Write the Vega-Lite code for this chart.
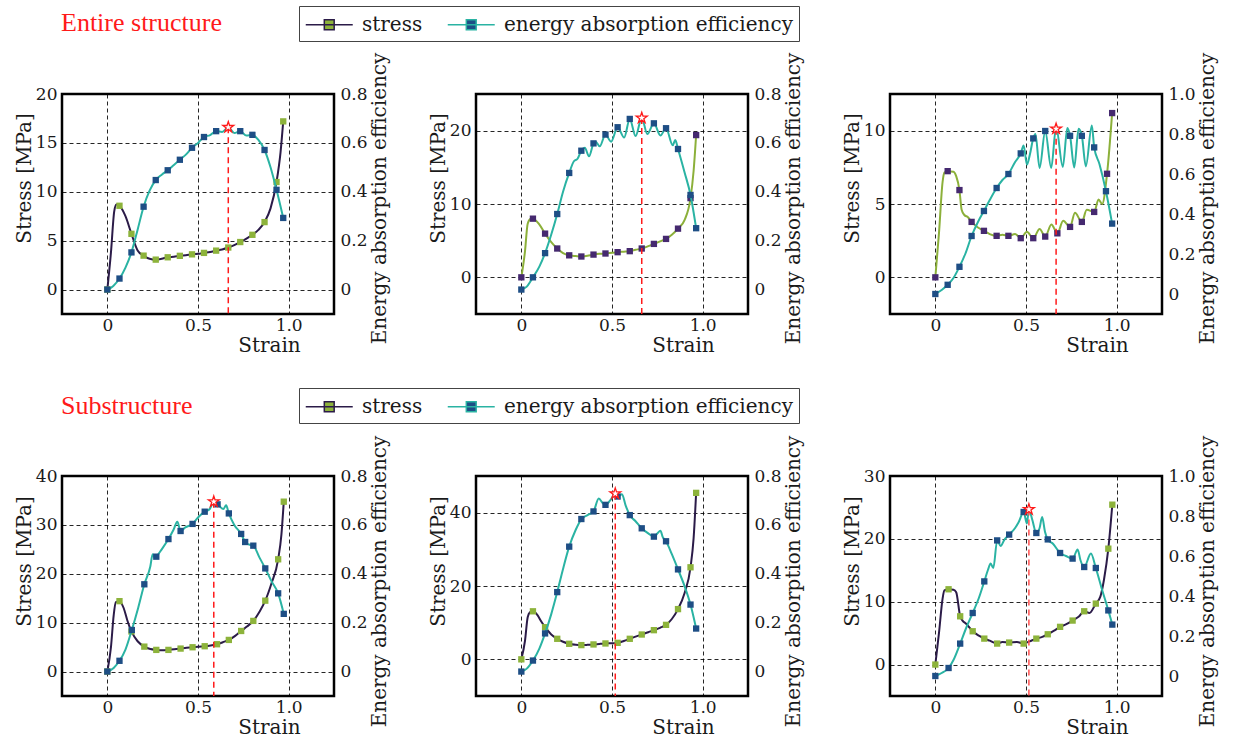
{
"$schema": "https://vega.github.io/schema/vega-lite/v6.json",
"background": "white",
"padding": {"left": 12, "top": 4, "right": 5, "bottom": 5},
"columns": 3,
"spacing": {"row": 162, "column": 142},
"bounds": "flush",
"resolve": {"scale": {"color": "independent"}, "legend": {"color": "independent"}},
"config": {
  "view": {"stroke": "#000", "strokeWidth": 2.5},
  "axis": {"labelFont": "DejaVu Serif", "titleFont": "DejaVu Serif", "labelFontSize": 17, "labelColor": "#1a1a1a", "titleFontSize": 20, "titleFontWeight": "normal", "titleColor": "#1a1a1a", "ticks": false, "domain": false, "grid": true, "gridColor": "#000", "gridDash": [4, 3], "gridWidth": 1, "gridOpacity": 0.85, "labelOverlap": false, "labelFlush": false, "labelBound": false}
},
"datasets": {
"p1": [
{"x":0,"y":0,"k":"s","m":1},{"x":0.02,"y":3.8,"k":"s"},{"x":0.038,"y":8.0,"k":"s"},{"x":0.05,"y":8.7,"k":"s"},{"x":0.067,"y":8.57,"k":"s","m":1},{"x":0.1,"y":7.5,"k":"s"},{"x":0.133,"y":5.7,"k":"s","m":1},{"x":0.167,"y":4.0,"k":"s"},{"x":0.2,"y":3.47,"k":"s","m":1},{"x":0.233,"y":3.15,"k":"s"},{"x":0.267,"y":3.06,"k":"s","m":1},{"x":0.3,"y":3.15,"k":"s"},{"x":0.333,"y":3.3,"k":"s","m":1},{"x":0.367,"y":3.35,"k":"s"},{"x":0.4,"y":3.45,"k":"s","m":1},{"x":0.433,"y":3.5,"k":"s"},{"x":0.467,"y":3.6,"k":"s","m":1},{"x":0.5,"y":3.65,"k":"s"},{"x":0.533,"y":3.75,"k":"s","m":1},{"x":0.567,"y":3.85,"k":"s"},{"x":0.6,"y":3.98,"k":"s","m":1},{"x":0.633,"y":4.1,"k":"s"},{"x":0.667,"y":4.3,"k":"s","m":1},{"x":0.7,"y":4.55,"k":"s"},{"x":0.733,"y":4.86,"k":"s","m":1},{"x":0.767,"y":5.2,"k":"s"},{"x":0.8,"y":5.6,"k":"s","m":1},{"x":0.833,"y":6.1,"k":"s"},{"x":0.867,"y":6.9,"k":"s","m":1},{"x":0.9,"y":8.3,"k":"s"},{"x":0.933,"y":11.0,"k":"s","m":1},{"x":0.955,"y":14.0,"k":"s"},{"x":0.97,"y":17.2,"k":"s","m":1},
{"x":0,"y":0,"k":"e","m":1},{"x":0.033,"y":0.015,"k":"e"},{"x":0.067,"y":0.045,"k":"e","m":1},{"x":0.1,"y":0.09,"k":"e"},{"x":0.133,"y":0.152,"k":"e","m":1},{"x":0.167,"y":0.245,"k":"e"},{"x":0.2,"y":0.339,"k":"e","m":1},{"x":0.233,"y":0.405,"k":"e"},{"x":0.267,"y":0.448,"k":"e","m":1},{"x":0.3,"y":0.47,"k":"e"},{"x":0.333,"y":0.488,"k":"e","m":1},{"x":0.367,"y":0.51,"k":"e"},{"x":0.4,"y":0.531,"k":"e","m":1},{"x":0.433,"y":0.552,"k":"e"},{"x":0.467,"y":0.58,"k":"e","m":1},{"x":0.5,"y":0.6,"k":"e"},{"x":0.533,"y":0.624,"k":"e","m":1},{"x":0.567,"y":0.632,"k":"e"},{"x":0.6,"y":0.648,"k":"e","m":1},{"x":0.633,"y":0.645,"k":"e"},{"x":0.667,"y":0.664,"k":"e"},{"x":0.7,"y":0.64,"k":"e"},{"x":0.733,"y":0.648,"k":"e","m":1},{"x":0.767,"y":0.63,"k":"e"},{"x":0.8,"y":0.633,"k":"e","m":1},{"x":0.833,"y":0.612,"k":"e"},{"x":0.867,"y":0.571,"k":"e","m":1},{"x":0.9,"y":0.5,"k":"e"},{"x":0.933,"y":0.408,"k":"e","m":1},{"x":0.97,"y":0.293,"k":"e","m":1},
{"x":0.667,"y":0.664,"k":"pk"}
],
"p2": [
{"x":0,"y":0,"k":"s","m":1},{"x":0.02,"y":3.5,"k":"s"},{"x":0.035,"y":7.3,"k":"s"},{"x":0.05,"y":7.95,"k":"s"},{"x":0.064,"y":8.0,"k":"s","m":1},{"x":0.1,"y":7.2,"k":"s"},{"x":0.131,"y":5.96,"k":"s","m":1},{"x":0.165,"y":4.8,"k":"s"},{"x":0.198,"y":3.93,"k":"s","m":1},{"x":0.23,"y":3.3,"k":"s"},{"x":0.264,"y":3.0,"k":"s","m":1},{"x":0.3,"y":2.9,"k":"s"},{"x":0.331,"y":2.84,"k":"s","m":1},{"x":0.365,"y":2.95,"k":"s"},{"x":0.398,"y":3.1,"k":"s","m":1},{"x":0.43,"y":3.2,"k":"s"},{"x":0.464,"y":3.25,"k":"s","m":1},{"x":0.5,"y":3.35,"k":"s"},{"x":0.531,"y":3.43,"k":"s","m":1},{"x":0.565,"y":3.5,"k":"s"},{"x":0.598,"y":3.57,"k":"s","m":1},{"x":0.63,"y":3.75,"k":"s"},{"x":0.664,"y":3.93,"k":"s","m":1},{"x":0.7,"y":4.25,"k":"s"},{"x":0.731,"y":4.56,"k":"s","m":1},{"x":0.765,"y":4.9,"k":"s"},{"x":0.798,"y":5.24,"k":"s","m":1},{"x":0.83,"y":5.8,"k":"s"},{"x":0.864,"y":6.64,"k":"s","m":1},{"x":0.9,"y":7.8,"k":"s"},{"x":0.933,"y":10.8,"k":"s","m":1},{"x":0.95,"y":14.5,"k":"s"},{"x":0.964,"y":19.4,"k":"s","m":1},
{"x":0,"y":0,"k":"e","m":1},{"x":0.03,"y":0.012,"k":"e"},{"x":0.064,"y":0.05,"k":"e","m":1},{"x":0.1,"y":0.095,"k":"e"},{"x":0.131,"y":0.149,"k":"e","m":1},{"x":0.165,"y":0.225,"k":"e"},{"x":0.198,"y":0.309,"k":"e","m":1},{"x":0.23,"y":0.4,"k":"e"},{"x":0.264,"y":0.477,"k":"e","m":1},{"x":0.29,"y":0.525,"k":"e"},{"x":0.31,"y":0.535,"k":"e"},{"x":0.331,"y":0.568,"k":"e","m":1},{"x":0.35,"y":0.58,"k":"e"},{"x":0.373,"y":0.545,"k":"e"},{"x":0.398,"y":0.598,"k":"e","m":1},{"x":0.41,"y":0.605,"k":"e"},{"x":0.432,"y":0.586,"k":"e"},{"x":0.464,"y":0.634,"k":"e","m":1},{"x":0.495,"y":0.605,"k":"e"},{"x":0.531,"y":0.664,"k":"e","m":1},{"x":0.567,"y":0.622,"k":"e"},{"x":0.598,"y":0.698,"k":"e","m":1},{"x":0.63,"y":0.628,"k":"e"},{"x":0.664,"y":0.702,"k":"e"},{"x":0.695,"y":0.636,"k":"e"},{"x":0.731,"y":0.68,"k":"e","m":1},{"x":0.767,"y":0.63,"k":"e"},{"x":0.798,"y":0.66,"k":"e","m":1},{"x":0.835,"y":0.59,"k":"e"},{"x":0.849,"y":0.612,"k":"e"},{"x":0.864,"y":0.575,"k":"e","m":1},{"x":0.9,"y":0.48,"k":"e"},{"x":0.933,"y":0.387,"k":"e","m":1},{"x":0.964,"y":0.251,"k":"e","m":1},
{"x":0.664,"y":0.702,"k":"pk"}
],
"p3": [
{"x":0,"y":0,"k":"s","m":1},{"x":0.02,"y":3.0,"k":"s"},{"x":0.04,"y":6.5,"k":"s"},{"x":0.05,"y":7.15,"k":"s"},{"x":0.068,"y":7.24,"k":"s","m":1},{"x":0.1,"y":7.2,"k":"s"},{"x":0.115,"y":6.9,"k":"s"},{"x":0.133,"y":5.95,"k":"s","m":1},{"x":0.145,"y":4.6,"k":"s"},{"x":0.16,"y":4.25,"k":"s"},{"x":0.18,"y":4.1,"k":"s"},{"x":0.2,"y":3.78,"k":"s","m":1},{"x":0.235,"y":3.4,"k":"s"},{"x":0.268,"y":3.17,"k":"s","m":1},{"x":0.3,"y":2.95,"k":"s"},{"x":0.338,"y":2.83,"k":"s","m":1},{"x":0.37,"y":2.9,"k":"s"},{"x":0.403,"y":2.83,"k":"s","m":1},{"x":0.44,"y":2.95,"k":"s"},{"x":0.471,"y":2.67,"k":"s","m":1},{"x":0.505,"y":3.1,"k":"s"},{"x":0.54,"y":2.67,"k":"s","m":1},{"x":0.575,"y":3.3,"k":"s"},{"x":0.606,"y":2.78,"k":"s","m":1},{"x":0.64,"y":3.6,"k":"s"},{"x":0.673,"y":3.0,"k":"s","m":1},{"x":0.705,"y":3.85,"k":"s"},{"x":0.743,"y":3.44,"k":"s","m":1},{"x":0.77,"y":4.4,"k":"s"},{"x":0.808,"y":3.78,"k":"s","m":1},{"x":0.835,"y":4.6,"k":"s"},{"x":0.876,"y":4.46,"k":"s","m":1},{"x":0.9,"y":5.3,"k":"s"},{"x":0.92,"y":5.0,"k":"s"},{"x":0.947,"y":7.06,"k":"s","m":1},{"x":0.975,"y":11.2,"k":"s","m":1},
{"x":0,"y":0,"k":"e","m":1},{"x":0.035,"y":0.02,"k":"e"},{"x":0.068,"y":0.046,"k":"e","m":1},{"x":0.1,"y":0.08,"k":"e"},{"x":0.133,"y":0.136,"k":"e","m":1},{"x":0.165,"y":0.2,"k":"e"},{"x":0.2,"y":0.29,"k":"e","m":1},{"x":0.235,"y":0.36,"k":"e"},{"x":0.268,"y":0.415,"k":"e","m":1},{"x":0.3,"y":0.47,"k":"e"},{"x":0.338,"y":0.53,"k":"e","m":1},{"x":0.37,"y":0.57,"k":"e"},{"x":0.403,"y":0.6,"k":"e","m":1},{"x":0.44,"y":0.66,"k":"e"},{"x":0.471,"y":0.703,"k":"e","m":1},{"x":0.487,"y":0.743,"k":"e"},{"x":0.505,"y":0.647,"k":"e"},{"x":0.522,"y":0.7,"k":"e"},{"x":0.54,"y":0.778,"k":"e","m":1},{"x":0.552,"y":0.8,"k":"e"},{"x":0.575,"y":0.63,"k":"e"},{"x":0.606,"y":0.815,"k":"e","m":1},{"x":0.639,"y":0.63,"k":"e"},{"x":0.666,"y":0.835,"k":"e"},{"x":0.703,"y":0.635,"k":"e"},{"x":0.728,"y":0.83,"k":"e"},{"x":0.743,"y":0.791,"k":"e","m":1},{"x":0.766,"y":0.633,"k":"e"},{"x":0.79,"y":0.826,"k":"e"},{"x":0.808,"y":0.791,"k":"e","m":1},{"x":0.83,"y":0.638,"k":"e"},{"x":0.863,"y":0.842,"k":"e"},{"x":0.876,"y":0.733,"k":"e","m":1},{"x":0.905,"y":0.65,"k":"e"},{"x":0.941,"y":0.514,"k":"e","m":1},{"x":0.975,"y":0.352,"k":"e","m":1},
{"x":0.666,"y":0.826,"k":"pk"}
],
"p4": [
{"x":0,"y":0,"k":"s","m":1},{"x":0.02,"y":5,"k":"s"},{"x":0.035,"y":11.5,"k":"s"},{"x":0.047,"y":14.2,"k":"s"},{"x":0.067,"y":14.4,"k":"s","m":1},{"x":0.09,"y":13.0,"k":"s"},{"x":0.11,"y":10.5,"k":"s"},{"x":0.133,"y":8.2,"k":"s","m":1},{"x":0.167,"y":6.2,"k":"s"},{"x":0.204,"y":5.1,"k":"s","m":1},{"x":0.237,"y":4.6,"k":"s"},{"x":0.27,"y":4.43,"k":"s","m":1},{"x":0.3,"y":4.35,"k":"s"},{"x":0.337,"y":4.43,"k":"s","m":1},{"x":0.37,"y":4.55,"k":"s"},{"x":0.404,"y":4.7,"k":"s","m":1},{"x":0.437,"y":4.85,"k":"s"},{"x":0.47,"y":4.97,"k":"s","m":1},{"x":0.5,"y":5.05,"k":"s"},{"x":0.537,"y":5.18,"k":"s","m":1},{"x":0.57,"y":5.35,"k":"s"},{"x":0.605,"y":5.59,"k":"s","m":1},{"x":0.637,"y":6.0,"k":"s"},{"x":0.67,"y":6.47,"k":"s","m":1},{"x":0.705,"y":7.3,"k":"s"},{"x":0.738,"y":8.3,"k":"s","m":1},{"x":0.77,"y":9.2,"k":"s"},{"x":0.805,"y":10.36,"k":"s","m":1},{"x":0.84,"y":12.3,"k":"s"},{"x":0.871,"y":14.5,"k":"s","m":1},{"x":0.905,"y":18.0,"k":"s"},{"x":0.942,"y":22.96,"k":"s","m":1},{"x":0.96,"y":28,"k":"s"},{"x":0.973,"y":34.75,"k":"s","m":1},
{"x":0,"y":0,"k":"e","m":1},{"x":0.035,"y":0.015,"k":"e"},{"x":0.067,"y":0.044,"k":"e","m":1},{"x":0.1,"y":0.09,"k":"e"},{"x":0.135,"y":0.17,"k":"e","m":1},{"x":0.17,"y":0.26,"k":"e"},{"x":0.204,"y":0.357,"k":"e","m":1},{"x":0.237,"y":0.43,"k":"e"},{"x":0.25,"y":0.48,"k":"e"},{"x":0.262,"y":0.465,"k":"e"},{"x":0.27,"y":0.47,"k":"e","m":1},{"x":0.3,"y":0.5,"k":"e"},{"x":0.337,"y":0.542,"k":"e","m":1},{"x":0.365,"y":0.58,"k":"e"},{"x":0.386,"y":0.613,"k":"e"},{"x":0.404,"y":0.575,"k":"e","m":1},{"x":0.43,"y":0.59,"k":"e"},{"x":0.47,"y":0.604,"k":"e","m":1},{"x":0.5,"y":0.63,"k":"e"},{"x":0.537,"y":0.654,"k":"e","m":1},{"x":0.565,"y":0.665,"k":"e"},{"x":0.587,"y":0.695,"k":"e"},{"x":0.608,"y":0.684,"k":"e","m":1},{"x":0.64,"y":0.665,"k":"e"},{"x":0.655,"y":0.68,"k":"e"},{"x":0.67,"y":0.647,"k":"e","m":1},{"x":0.7,"y":0.6,"k":"e"},{"x":0.738,"y":0.563,"k":"e","m":1},{"x":0.76,"y":0.53,"k":"e","m":1},{"x":0.78,"y":0.52,"k":"e"},{"x":0.805,"y":0.515,"k":"e","m":1},{"x":0.84,"y":0.465,"k":"e"},{"x":0.871,"y":0.422,"k":"e","m":1},{"x":0.905,"y":0.37,"k":"e"},{"x":0.942,"y":0.32,"k":"e","m":1},{"x":0.973,"y":0.236,"k":"e","m":1},
{"x":0.587,"y":0.695,"k":"pk"}
],
"p5": [
{"x":0,"y":0,"k":"s","m":1},{"x":0.02,"y":5,"k":"s"},{"x":0.035,"y":11.5,"k":"s"},{"x":0.047,"y":12.8,"k":"s"},{"x":0.064,"y":13.1,"k":"s","m":1},{"x":0.09,"y":12.0,"k":"s"},{"x":0.11,"y":10.3,"k":"s"},{"x":0.131,"y":8.76,"k":"s","m":1},{"x":0.165,"y":6.8,"k":"s"},{"x":0.198,"y":5.6,"k":"s","m":1},{"x":0.23,"y":4.8,"k":"s"},{"x":0.264,"y":4.24,"k":"s","m":1},{"x":0.3,"y":3.95,"k":"s"},{"x":0.331,"y":3.88,"k":"s","m":1},{"x":0.365,"y":3.95,"k":"s"},{"x":0.398,"y":4.06,"k":"s","m":1},{"x":0.43,"y":4.2,"k":"s"},{"x":0.464,"y":4.33,"k":"s","m":1},{"x":0.5,"y":4.4,"k":"s"},{"x":0.531,"y":4.5,"k":"s","m":1},{"x":0.565,"y":5.0,"k":"s"},{"x":0.598,"y":5.6,"k":"s","m":1},{"x":0.63,"y":6.2,"k":"s"},{"x":0.664,"y":6.77,"k":"s","m":1},{"x":0.7,"y":7.4,"k":"s"},{"x":0.731,"y":7.95,"k":"s","m":1},{"x":0.765,"y":8.6,"k":"s"},{"x":0.798,"y":9.4,"k":"s","m":1},{"x":0.83,"y":11.0,"k":"s"},{"x":0.864,"y":13.7,"k":"s","m":1},{"x":0.9,"y":18,"k":"s"},{"x":0.933,"y":25.1,"k":"s","m":1},{"x":0.95,"y":33,"k":"s"},{"x":0.964,"y":45.4,"k":"s","m":1},
{"x":0,"y":0,"k":"e","m":1},{"x":0.03,"y":0.012,"k":"e"},{"x":0.064,"y":0.045,"k":"e","m":1},{"x":0.1,"y":0.095,"k":"e"},{"x":0.131,"y":0.156,"k":"e","m":1},{"x":0.165,"y":0.235,"k":"e"},{"x":0.198,"y":0.325,"k":"e","m":1},{"x":0.23,"y":0.42,"k":"e"},{"x":0.264,"y":0.511,"k":"e","m":1},{"x":0.3,"y":0.58,"k":"e"},{"x":0.331,"y":0.624,"k":"e","m":1},{"x":0.365,"y":0.64,"k":"e"},{"x":0.398,"y":0.655,"k":"e","m":1},{"x":0.427,"y":0.708,"k":"e"},{"x":0.449,"y":0.689,"k":"e"},{"x":0.464,"y":0.682,"k":"e","m":1},{"x":0.49,"y":0.7,"k":"e"},{"x":0.518,"y":0.728,"k":"e"},{"x":0.531,"y":0.716,"k":"e","m":1},{"x":0.555,"y":0.725,"k":"e"},{"x":0.575,"y":0.68,"k":"e"},{"x":0.598,"y":0.64,"k":"e","m":1},{"x":0.63,"y":0.615,"k":"e"},{"x":0.664,"y":0.586,"k":"e","m":1},{"x":0.7,"y":0.565,"k":"e"},{"x":0.731,"y":0.552,"k":"e","m":1},{"x":0.75,"y":0.565,"k":"e"},{"x":0.767,"y":0.576,"k":"e"},{"x":0.78,"y":0.55,"k":"e"},{"x":0.798,"y":0.533,"k":"e","m":1},{"x":0.83,"y":0.48,"k":"e"},{"x":0.864,"y":0.418,"k":"e","m":1},{"x":0.9,"y":0.35,"k":"e"},{"x":0.933,"y":0.274,"k":"e","m":1},{"x":0.964,"y":0.176,"k":"e","m":1},
{"x":0.518,"y":0.728,"k":"pk"}
],
"p6": [
{"x":0,"y":0,"k":"s","m":1},{"x":0.02,"y":5,"k":"s"},{"x":0.04,"y":10.5,"k":"s"},{"x":0.05,"y":11.8,"k":"s"},{"x":0.073,"y":11.98,"k":"s","m":1},{"x":0.1,"y":11.9,"k":"s"},{"x":0.115,"y":11.5,"k":"s"},{"x":0.137,"y":7.68,"k":"s","m":1},{"x":0.15,"y":7.0,"k":"s"},{"x":0.17,"y":6.5,"k":"s"},{"x":0.206,"y":5.3,"k":"s","m":1},{"x":0.24,"y":4.6,"k":"s"},{"x":0.27,"y":4.13,"k":"s","m":1},{"x":0.3,"y":3.8,"k":"s"},{"x":0.341,"y":3.34,"k":"s","m":1},{"x":0.37,"y":3.6,"k":"s"},{"x":0.407,"y":3.5,"k":"s","m":1},{"x":0.45,"y":3.6,"k":"s"},{"x":0.487,"y":3.34,"k":"s","m":1},{"x":0.52,"y":3.7,"k":"s"},{"x":0.557,"y":4.13,"k":"s","m":1},{"x":0.59,"y":4.4,"k":"s"},{"x":0.62,"y":4.82,"k":"s","m":1},{"x":0.655,"y":5.4,"k":"s"},{"x":0.688,"y":6.0,"k":"s","m":1},{"x":0.72,"y":6.4,"k":"s"},{"x":0.757,"y":7.0,"k":"s","m":1},{"x":0.79,"y":7.6,"k":"s"},{"x":0.821,"y":8.48,"k":"s","m":1},{"x":0.85,"y":8.2,"k":"s"},{"x":0.885,"y":9.7,"k":"s","m":1},{"x":0.91,"y":10.8,"k":"s"},{"x":0.93,"y":13.5,"k":"s"},{"x":0.954,"y":18.44,"k":"s","m":1},{"x":0.976,"y":25.44,"k":"s","m":1},
{"x":0,"y":0,"k":"e","m":1},{"x":0.035,"y":0.015,"k":"e"},{"x":0.073,"y":0.04,"k":"e","m":1},{"x":0.1,"y":0.08,"k":"e"},{"x":0.137,"y":0.162,"k":"e","m":1},{"x":0.17,"y":0.24,"k":"e"},{"x":0.206,"y":0.315,"k":"e","m":1},{"x":0.24,"y":0.39,"k":"e"},{"x":0.27,"y":0.473,"k":"e","m":1},{"x":0.29,"y":0.53,"k":"e"},{"x":0.305,"y":0.562,"k":"e"},{"x":0.32,"y":0.54,"k":"e"},{"x":0.341,"y":0.678,"k":"e","m":1},{"x":0.36,"y":0.65,"k":"e"},{"x":0.38,"y":0.68,"k":"e"},{"x":0.407,"y":0.707,"k":"e","m":1},{"x":0.44,"y":0.74,"k":"e"},{"x":0.46,"y":0.77,"k":"e"},{"x":0.487,"y":0.82,"k":"e","m":1},{"x":0.505,"y":0.762,"k":"e"},{"x":0.516,"y":0.833,"k":"e"},{"x":0.535,"y":0.78,"k":"e"},{"x":0.557,"y":0.715,"k":"e","m":1},{"x":0.575,"y":0.74,"k":"e"},{"x":0.589,"y":0.795,"k":"e"},{"x":0.605,"y":0.72,"k":"e"},{"x":0.62,"y":0.683,"k":"e","m":1},{"x":0.65,"y":0.66,"k":"e"},{"x":0.688,"y":0.615,"k":"e","m":1},{"x":0.72,"y":0.6,"k":"e"},{"x":0.757,"y":0.587,"k":"e","m":1},{"x":0.785,"y":0.633,"k":"e"},{"x":0.8,"y":0.58,"k":"e"},{"x":0.821,"y":0.545,"k":"e","m":1},{"x":0.858,"y":0.612,"k":"e"},{"x":0.885,"y":0.54,"k":"e","m":1},{"x":0.92,"y":0.43,"k":"e"},{"x":0.954,"y":0.328,"k":"e","m":1},{"x":0.976,"y":0.257,"k":"e","m":1},
{"x":0.516,"y":0.833,"k":"pk"}
]
},
"concat": [
{
 "width": 272, "height": 220,
 "data": {"name": "p1"},
 "encoding": {"x": {"field": "x", "type": "quantitative", "scale": {"domain": [-0.25, 1.25], "nice": false, "zero": false}, "axis": {"values": [0, 0.5, 1], "labelExpr": "datum.value == 0 ? '0' : format(datum.value, '.1f')", "labelFont": "DejaVu Serif", "titleFont": "DejaVu Serif", "title": "Strain", "titleX": 207, "titleY": 37, "titleAlign": "center", "titleBaseline": "alphabetic", "labelPadding": 3}}},
 "layer": [
  {"encoding": {"y": {"field": "y", "type": "quantitative", "scale": {"domain": [-2.5, 20], "nice": false, "zero": false}, "axis": {"orient": "left", "values": [0, 5, 10, 15, 20], "labelFont": "DejaVu Serif", "titleFont": "DejaVu Serif", "title": "Stress [MPa]", "titleX": -38, "titleY": 84, "titleAngle": 270, "titleAlign": "center", "titleBaseline": "middle", "labelPadding": 5}}},
   "layer": [
    {"transform": [{"filter": "datum.k == 's'"}], "mark": {"type": "line", "interpolate": "monotone", "strokeWidth": 2},
     "encoding": {"color": {"datum": "stress", "type": "nominal", "scale": {"domain": ["stress", "energy absorption efficiency"], "range": ["#2b1b48", "#2ab3a3"]},
       "legend": {"orient": "none", "legendX": 237, "legendY": -88, "direction": "horizontal", "title": null, "symbolType": "M-1,0H3M0.58,-0.42H1.42V0.42H0.58Z", "symbolSize": 552, "symbolStrokeWidth": 1.5, "labelFont": "DejaVu Serif", "labelFontSize": 20, "labelColor": "#1a1a1a", "labelOffset": 32, "labelLimit": 400, "columnPadding": 21, "padding": 6, "strokeColor": "#444", "fillColor": "#fff",
         "encode": {"symbols": {"update": {"fill": {"signal": "datum.value === 'stress' ? '#8db33b' : '#1e4e85'"}, "fillOpacity": {"value": 1}, "opacity": {"value": 1}}}}}}}},
    {"transform": [{"filter": "datum.k == 's' && datum.m == 1"}], "mark": {"type": "square", "size": 40, "filled": true, "color": "#8db33b", "opacity": 1}}
   ]},
  {"encoding": {"y": {"field": "y", "type": "quantitative", "scale": {"domain": [-0.1, 0.8], "nice": false, "zero": false}, "axis": {"orient": "right", "values": [0, 0.2, 0.4, 0.6, 0.8], "labelExpr": "datum.value == 0 ? '0' : format(datum.value, '.1f')", "labelFont": "DejaVu Serif", "titleFont": "DejaVu Serif", "title": "Energy absorption efficiency", "titleX": 45, "titleY": 104, "titleAngle": 270, "titleAlign": "center", "titleBaseline": "middle", "labelPadding": 6}}},
   "layer": [
    {"transform": [{"filter": "datum.k == 'e'"}], "mark": {"type": "line", "interpolate": "monotone", "strokeWidth": 2}, "encoding": {"color": {"datum": "energy absorption efficiency", "type": "nominal"}}},
    {"transform": [{"filter": "datum.k == 'e' && datum.m == 1"}], "mark": {"type": "square", "size": 40, "filled": true, "color": "#1e4e85", "opacity": 1}},
    {"transform": [{"filter": "datum.k == 'pk'"}], "mark": {"type": "rule", "color": "#ff1a1a", "strokeDash": [6, 4], "strokeWidth": 1.5}, "encoding": {"y2": {"datum": -0.1}}},
    {"transform": [{"filter": "datum.k == 'pk'"}], "mark": {"type": "point", "shape": "M0,-1L0.2245,-0.309L0.951,-0.309L0.363,0.118L0.588,0.809L0,0.382L-0.588,0.809L-0.363,0.118L-0.951,-0.309L-0.2245,-0.309Z", "size": 130, "filled": true, "fill": "#fff", "stroke": "#ff1a1a", "strokeWidth": 1.3, "opacity": 1}}
   ]},
  {"data": {"values": [{"t": "RH"}]},
   "encoding": {"y": {"datum": 0.986, "type": "quantitative", "scale": {"domain": [0, 1], "nice": false, "zero": false}, "axis": null}},
   "layer": [
    {"mark": {"type": "rect", "color": "#000"}, "encoding": {"x": {"datum": 1.029}, "x2": {"datum": 1.222}, "y2": {"datum": 0.905}}},
    {"mark": {"type": "text", "color": "#fff", "fontWeight": "bold", "fontSize": 16, "font": "Liberation Serif", "baseline": "middle", "align": "center"}, "encoding": {"x": {"datum": 1.1255}, "y": {"datum": 0.945}, "text": {"field": "t"}}}
   ]}
 ],
 "resolve": {"scale": {"y": "independent"}}
},
{
 "width": 272, "height": 220,
 "title": {"text": "Entire structure", "anchor": "start", "frame": "group", "dx": -415, "offset": 16, "color": "#ff1a1a", "font": "Liberation Serif", "fontSize": 26, "fontWeight": "normal"},
 "data": {"name": "p2"},
 "encoding": {"x": {"field": "x", "type": "quantitative", "scale": {"domain": [-0.25, 1.25], "nice": false, "zero": false}, "axis": {"values": [0, 0.5, 1], "labelExpr": "datum.value == 0 ? '0' : format(datum.value, '.1f')", "labelFont": "DejaVu Serif", "titleFont": "DejaVu Serif", "title": "Strain", "titleX": 207, "titleY": 37, "titleAlign": "center", "titleBaseline": "alphabetic", "labelPadding": 3}}},
 "layer": [
  {"encoding": {"y": {"field": "y", "type": "quantitative", "scale": {"domain": [-5, 25], "nice": false, "zero": false}, "axis": {"orient": "left", "values": [0, 10, 20], "labelFont": "DejaVu Serif", "titleFont": "DejaVu Serif", "title": "Stress [MPa]", "titleX": -38, "titleY": 84, "titleAngle": 270, "titleAlign": "center", "titleBaseline": "middle", "labelPadding": 5}}},
   "layer": [
    {"transform": [{"filter": "datum.k == 's'"}], "mark": {"type": "line", "interpolate": "monotone", "strokeWidth": 2, "color": "#8cb03a"}},
    {"transform": [{"filter": "datum.k == 's' && datum.m == 1"}], "mark": {"type": "square", "size": 40, "filled": true, "color": "#45296f", "opacity": 1}}
   ]},
  {"encoding": {"y": {"field": "y", "type": "quantitative", "scale": {"domain": [-0.1, 0.8], "nice": false, "zero": false}, "axis": {"orient": "right", "values": [0, 0.2, 0.4, 0.6, 0.8], "labelExpr": "datum.value == 0 ? '0' : format(datum.value, '.1f')", "labelFont": "DejaVu Serif", "titleFont": "DejaVu Serif", "title": "Energy absorption efficiency", "titleX": 45, "titleY": 104, "titleAngle": 270, "titleAlign": "center", "titleBaseline": "middle", "labelPadding": 6}}},
   "layer": [
    {"transform": [{"filter": "datum.k == 'e'"}], "mark": {"type": "line", "interpolate": "monotone", "strokeWidth": 2, "color": "#2ab3a3"}},
    {"transform": [{"filter": "datum.k == 'e' && datum.m == 1"}], "mark": {"type": "square", "size": 40, "filled": true, "color": "#1e4e85", "opacity": 1}},
    {"transform": [{"filter": "datum.k == 'pk'"}], "mark": {"type": "rule", "color": "#ff1a1a", "strokeDash": [6, 4], "strokeWidth": 1.5}, "encoding": {"y2": {"datum": -0.1}}},
    {"transform": [{"filter": "datum.k == 'pk'"}], "mark": {"type": "point", "shape": "M0,-1L0.2245,-0.309L0.951,-0.309L0.363,0.118L0.588,0.809L0,0.382L-0.588,0.809L-0.363,0.118L-0.951,-0.309L-0.2245,-0.309Z", "size": 130, "filled": true, "fill": "#fff", "stroke": "#ff1a1a", "strokeWidth": 1.3, "opacity": 1}}
   ]},
  {"data": {"values": [{"t": "SRH"}]},
   "encoding": {"y": {"datum": 0.977, "type": "quantitative", "scale": {"domain": [0, 1], "nice": false, "zero": false}, "axis": null}},
   "layer": [
    {"mark": {"type": "rect", "color": "#000"}, "encoding": {"x": {"datum": 0.98}, "x2": {"datum": 1.245}, "y2": {"datum": 0.9}}},
    {"mark": {"type": "text", "color": "#fff", "fontWeight": "bold", "fontSize": 16, "font": "Liberation Serif", "baseline": "middle", "align": "center"}, "encoding": {"x": {"datum": 1.1125}, "y": {"datum": 0.938}, "text": {"field": "t"}}}
   ]}
 ],
 "resolve": {"scale": {"y": "independent"}}
},
{
 "width": 272, "height": 220,
 "data": {"name": "p3"},
 "encoding": {"x": {"field": "x", "type": "quantitative", "scale": {"domain": [-0.25, 1.25], "nice": false, "zero": false}, "axis": {"values": [0, 0.5, 1], "labelExpr": "datum.value == 0 ? '0' : format(datum.value, '.1f')", "labelFont": "DejaVu Serif", "titleFont": "DejaVu Serif", "title": "Strain", "titleX": 207, "titleY": 37, "titleAlign": "center", "titleBaseline": "alphabetic", "labelPadding": 3}}},
 "layer": [
  {"encoding": {"y": {"field": "y", "type": "quantitative", "scale": {"domain": [-2.5, 12.5], "nice": false, "zero": false}, "axis": {"orient": "left", "values": [0, 5, 10], "labelFont": "DejaVu Serif", "titleFont": "DejaVu Serif", "title": "Stress [MPa]", "titleX": -38, "titleY": 84, "titleAngle": 270, "titleAlign": "center", "titleBaseline": "middle", "labelPadding": 5}}},
   "layer": [
    {"transform": [{"filter": "datum.k == 's'"}], "mark": {"type": "line", "interpolate": "monotone", "strokeWidth": 2, "color": "#8cb03a"}},
    {"transform": [{"filter": "datum.k == 's' && datum.m == 1"}], "mark": {"type": "square", "size": 40, "filled": true, "color": "#45296f", "opacity": 1}}
   ]},
  {"encoding": {"y": {"field": "y", "type": "quantitative", "scale": {"domain": [-0.1, 1.0], "nice": false, "zero": false}, "axis": {"orient": "right", "values": [0, 0.2, 0.4, 0.6, 0.8, 1.0], "labelExpr": "datum.value == 0 ? '0' : format(datum.value, '.1f')", "labelFont": "DejaVu Serif", "titleFont": "DejaVu Serif", "title": "Energy absorption efficiency", "titleX": 45, "titleY": 104, "titleAngle": 270, "titleAlign": "center", "titleBaseline": "middle", "labelPadding": 6}}},
   "layer": [
    {"transform": [{"filter": "datum.k == 'e'"}], "mark": {"type": "line", "interpolate": "monotone", "strokeWidth": 2, "color": "#2ab3a3"}},
    {"transform": [{"filter": "datum.k == 'e' && datum.m == 1"}], "mark": {"type": "square", "size": 40, "filled": true, "color": "#1e4e85", "opacity": 1}},
    {"transform": [{"filter": "datum.k == 'pk'"}], "mark": {"type": "rule", "color": "#ff1a1a", "strokeDash": [6, 4], "strokeWidth": 1.5}, "encoding": {"y2": {"datum": -0.1}}},
    {"transform": [{"filter": "datum.k == 'pk'"}], "mark": {"type": "point", "shape": "M0,-1L0.2245,-0.309L0.951,-0.309L0.363,0.118L0.588,0.809L0,0.382L-0.588,0.809L-0.363,0.118L-0.951,-0.309L-0.2245,-0.309Z", "size": 130, "filled": true, "fill": "#fff", "stroke": "#ff1a1a", "strokeWidth": 1.3, "opacity": 1}}
   ]},
  {"data": {"values": [{"t": "CH"}]},
   "encoding": {"y": {"datum": 0.986, "type": "quantitative", "scale": {"domain": [0, 1], "nice": false, "zero": false}, "axis": null}},
   "layer": [
    {"mark": {"type": "rect", "color": "#000"}, "encoding": {"x": {"datum": 1.0625}, "x2": {"datum": 1.245}, "y2": {"datum": 0.9}}},
    {"mark": {"type": "text", "color": "#fff", "fontWeight": "bold", "fontSize": 16, "font": "Liberation Serif", "baseline": "middle", "align": "center"}, "encoding": {"x": {"datum": 1.154}, "y": {"datum": 0.943}, "text": {"field": "t"}}}
   ]}
 ],
 "resolve": {"scale": {"y": "independent"}}
},
{
 "width": 272, "height": 220,
 "data": {"name": "p4"},
 "encoding": {"x": {"field": "x", "type": "quantitative", "scale": {"domain": [-0.25, 1.25], "nice": false, "zero": false}, "axis": {"values": [0, 0.5, 1], "labelExpr": "datum.value == 0 ? '0' : format(datum.value, '.1f')", "labelFont": "DejaVu Serif", "titleFont": "DejaVu Serif", "title": "Strain", "titleX": 207, "titleY": 37, "titleAlign": "center", "titleBaseline": "alphabetic", "labelPadding": 3}}},
 "layer": [
  {"encoding": {"y": {"field": "y", "type": "quantitative", "scale": {"domain": [-5, 40], "nice": false, "zero": false}, "axis": {"orient": "left", "values": [0, 10, 20, 30, 40], "labelFont": "DejaVu Serif", "titleFont": "DejaVu Serif", "title": "Stress [MPa]", "titleX": -38, "titleY": 85, "titleAngle": 270, "titleAlign": "center", "titleBaseline": "middle", "labelPadding": 5}}},
   "layer": [
    {"transform": [{"filter": "datum.k == 's'"}], "mark": {"type": "line", "interpolate": "monotone", "strokeWidth": 2},
     "encoding": {"color": {"datum": "stress", "type": "nominal", "scale": {"domain": ["stress", "energy absorption efficiency"], "range": ["#2b1b48", "#2ab3a3"]},
       "legend": {"orient": "none", "legendX": 237, "legendY": -88, "direction": "horizontal", "title": null, "symbolType": "M-1,0H3M0.58,-0.42H1.42V0.42H0.58Z", "symbolSize": 552, "symbolStrokeWidth": 1.5, "labelFont": "DejaVu Serif", "labelFontSize": 20, "labelColor": "#1a1a1a", "labelOffset": 32, "labelLimit": 400, "columnPadding": 21, "padding": 6, "strokeColor": "#444", "fillColor": "#fff",
         "encode": {"symbols": {"update": {"fill": {"signal": "datum.value === 'stress' ? '#8db33b' : '#1e4e85'"}, "fillOpacity": {"value": 1}, "opacity": {"value": 1}}}}}}}},
    {"transform": [{"filter": "datum.k == 's' && datum.m == 1"}], "mark": {"type": "square", "size": 40, "filled": true, "color": "#8db33b", "opacity": 1}}
   ]},
  {"encoding": {"y": {"field": "y", "type": "quantitative", "scale": {"domain": [-0.1, 0.8], "nice": false, "zero": false}, "axis": {"orient": "right", "values": [0, 0.2, 0.4, 0.6, 0.8], "labelExpr": "datum.value == 0 ? '0' : format(datum.value, '.1f')", "labelFont": "DejaVu Serif", "titleFont": "DejaVu Serif", "title": "Energy absorption efficiency", "titleX": 45, "titleY": 105, "titleAngle": 270, "titleAlign": "center", "titleBaseline": "middle", "labelPadding": 6}}},
   "layer": [
    {"transform": [{"filter": "datum.k == 'e'"}], "mark": {"type": "line", "interpolate": "monotone", "strokeWidth": 2}, "encoding": {"color": {"datum": "energy absorption efficiency", "type": "nominal"}}},
    {"transform": [{"filter": "datum.k == 'e' && datum.m == 1"}], "mark": {"type": "square", "size": 40, "filled": true, "color": "#1e4e85", "opacity": 1}},
    {"transform": [{"filter": "datum.k == 'pk'"}], "mark": {"type": "rule", "color": "#ff1a1a", "strokeDash": [6, 4], "strokeWidth": 1.5}, "encoding": {"y2": {"datum": -0.1}}},
    {"transform": [{"filter": "datum.k == 'pk'"}], "mark": {"type": "point", "shape": "M0,-1L0.2245,-0.309L0.951,-0.309L0.363,0.118L0.588,0.809L0,0.382L-0.588,0.809L-0.363,0.118L-0.951,-0.309L-0.2245,-0.309Z", "size": 130, "filled": true, "fill": "#fff", "stroke": "#ff1a1a", "strokeWidth": 1.3, "opacity": 1}}
   ]},
  {"data": {"values": [{"t": "RH"}]},
   "encoding": {"y": {"datum": 0.982, "type": "quantitative", "scale": {"domain": [0, 1], "nice": false, "zero": false}, "axis": null}},
   "layer": [
    {"mark": {"type": "rect", "color": "#000"}, "encoding": {"x": {"datum": 1.029}, "x2": {"datum": 1.222}, "y2": {"datum": 0.91}}},
    {"mark": {"type": "text", "color": "#fff", "fontWeight": "bold", "fontSize": 16, "font": "Liberation Serif", "baseline": "middle", "align": "center"}, "encoding": {"x": {"datum": 1.1255}, "y": {"datum": 0.946}, "text": {"field": "t"}}}
   ]}
 ],
 "resolve": {"scale": {"y": "independent"}}
},
{
 "width": 272, "height": 220,
 "title": {"text": "Substructure", "anchor": "start", "frame": "group", "dx": -415, "offset": 16, "color": "#ff1a1a", "font": "Liberation Serif", "fontSize": 26, "fontWeight": "normal"},
 "data": {"name": "p5"},
 "encoding": {"x": {"field": "x", "type": "quantitative", "scale": {"domain": [-0.25, 1.25], "nice": false, "zero": false}, "axis": {"values": [0, 0.5, 1], "labelExpr": "datum.value == 0 ? '0' : format(datum.value, '.1f')", "labelFont": "DejaVu Serif", "titleFont": "DejaVu Serif", "title": "Strain", "titleX": 207, "titleY": 37, "titleAlign": "center", "titleBaseline": "alphabetic", "labelPadding": 3}}},
 "layer": [
  {"encoding": {"y": {"field": "y", "type": "quantitative", "scale": {"domain": [-10, 50], "nice": false, "zero": false}, "axis": {"orient": "left", "values": [0, 20, 40], "labelFont": "DejaVu Serif", "titleFont": "DejaVu Serif", "title": "Stress [MPa]", "titleX": -38, "titleY": 85, "titleAngle": 270, "titleAlign": "center", "titleBaseline": "middle", "labelPadding": 5}}},
   "layer": [
    {"transform": [{"filter": "datum.k == 's'"}], "mark": {"type": "line", "interpolate": "monotone", "strokeWidth": 2, "color": "#2b1b48"}},
    {"transform": [{"filter": "datum.k == 's' && datum.m == 1"}], "mark": {"type": "square", "size": 40, "filled": true, "color": "#8db33b", "opacity": 1}}
   ]},
  {"encoding": {"y": {"field": "y", "type": "quantitative", "scale": {"domain": [-0.1, 0.8], "nice": false, "zero": false}, "axis": {"orient": "right", "values": [0, 0.2, 0.4, 0.6, 0.8], "labelExpr": "datum.value == 0 ? '0' : format(datum.value, '.1f')", "labelFont": "DejaVu Serif", "titleFont": "DejaVu Serif", "title": "Energy absorption efficiency", "titleX": 45, "titleY": 105, "titleAngle": 270, "titleAlign": "center", "titleBaseline": "middle", "labelPadding": 6}}},
   "layer": [
    {"transform": [{"filter": "datum.k == 'e'"}], "mark": {"type": "line", "interpolate": "monotone", "strokeWidth": 2, "color": "#2ab3a3"}},
    {"transform": [{"filter": "datum.k == 'e' && datum.m == 1"}], "mark": {"type": "square", "size": 40, "filled": true, "color": "#1e4e85", "opacity": 1}},
    {"transform": [{"filter": "datum.k == 'pk'"}], "mark": {"type": "rule", "color": "#ff1a1a", "strokeDash": [6, 4], "strokeWidth": 1.5}, "encoding": {"y2": {"datum": -0.1}}},
    {"transform": [{"filter": "datum.k == 'pk'"}], "mark": {"type": "point", "shape": "M0,-1L0.2245,-0.309L0.951,-0.309L0.363,0.118L0.588,0.809L0,0.382L-0.588,0.809L-0.363,0.118L-0.951,-0.309L-0.2245,-0.309Z", "size": 130, "filled": true, "fill": "#fff", "stroke": "#ff1a1a", "strokeWidth": 1.3, "opacity": 1}}
   ]},
  {"data": {"values": [{"t": "SRH"}]},
   "encoding": {"y": {"datum": 1.03, "type": "quantitative", "scale": {"domain": [0, 1], "nice": false, "zero": false}, "axis": null}},
   "layer": [
    {"mark": {"type": "rect", "color": "#000"}, "encoding": {"x": {"datum": 0.995}, "x2": {"datum": 1.25}, "y2": {"datum": 0.962}}},
    {"mark": {"type": "text", "color": "#fff", "fontWeight": "bold", "fontSize": 16, "font": "Liberation Serif", "baseline": "middle", "align": "center"}, "encoding": {"x": {"datum": 1.1225}, "y": {"datum": 0.996}, "text": {"field": "t"}}}
   ]}
 ],
 "resolve": {"scale": {"y": "independent"}}
},
{
 "width": 272, "height": 220,
 "data": {"name": "p6"},
 "encoding": {"x": {"field": "x", "type": "quantitative", "scale": {"domain": [-0.25, 1.25], "nice": false, "zero": false}, "axis": {"values": [0, 0.5, 1], "labelExpr": "datum.value == 0 ? '0' : format(datum.value, '.1f')", "labelFont": "DejaVu Serif", "titleFont": "DejaVu Serif", "title": "Strain", "titleX": 207, "titleY": 37, "titleAlign": "center", "titleBaseline": "alphabetic", "labelPadding": 3}}},
 "layer": [
  {"encoding": {"y": {"field": "y", "type": "quantitative", "scale": {"domain": [-5, 30], "nice": false, "zero": false}, "axis": {"orient": "left", "values": [0, 10, 20, 30], "labelFont": "DejaVu Serif", "titleFont": "DejaVu Serif", "title": "Stress [MPa]", "titleX": -38, "titleY": 85, "titleAngle": 270, "titleAlign": "center", "titleBaseline": "middle", "labelPadding": 5}}},
   "layer": [
    {"transform": [{"filter": "datum.k == 's'"}], "mark": {"type": "line", "interpolate": "monotone", "strokeWidth": 2, "color": "#2b1b48"}},
    {"transform": [{"filter": "datum.k == 's' && datum.m == 1"}], "mark": {"type": "square", "size": 40, "filled": true, "color": "#8db33b", "opacity": 1}}
   ]},
  {"encoding": {"y": {"field": "y", "type": "quantitative", "scale": {"domain": [-0.1, 1.0], "nice": false, "zero": false}, "axis": {"orient": "right", "values": [0, 0.2, 0.4, 0.6, 0.8, 1.0], "labelExpr": "datum.value == 0 ? '0' : format(datum.value, '.1f')", "labelFont": "DejaVu Serif", "titleFont": "DejaVu Serif", "title": "Energy absorption efficiency", "titleX": 45, "titleY": 105, "titleAngle": 270, "titleAlign": "center", "titleBaseline": "middle", "labelPadding": 6}}},
   "layer": [
    {"transform": [{"filter": "datum.k == 'e'"}], "mark": {"type": "line", "interpolate": "monotone", "strokeWidth": 2, "color": "#2ab3a3"}},
    {"transform": [{"filter": "datum.k == 'e' && datum.m == 1"}], "mark": {"type": "square", "size": 40, "filled": true, "color": "#1e4e85", "opacity": 1}},
    {"transform": [{"filter": "datum.k == 'pk'"}], "mark": {"type": "rule", "color": "#ff5050", "strokeDash": [6, 4], "strokeWidth": 1.5}, "encoding": {"y2": {"datum": -0.1}}},
    {"transform": [{"filter": "datum.k == 'pk'"}], "mark": {"type": "point", "shape": "M0,-1L0.2245,-0.309L0.951,-0.309L0.363,0.118L0.588,0.809L0,0.382L-0.588,0.809L-0.363,0.118L-0.951,-0.309L-0.2245,-0.309Z", "size": 130, "filled": true, "fill": "#fff", "stroke": "#ff1a1a", "strokeWidth": 1.3, "opacity": 1}}
   ]},
  {"data": {"values": [{"t": "CH"}]},
   "encoding": {"y": {"datum": 0.982, "type": "quantitative", "scale": {"domain": [0, 1], "nice": false, "zero": false}, "axis": null}},
   "layer": [
    {"mark": {"type": "rect", "color": "#000"}, "encoding": {"x": {"datum": 1.0625}, "x2": {"datum": 1.245}, "y2": {"datum": 0.905}}},
    {"mark": {"type": "text", "color": "#fff", "fontWeight": "bold", "fontSize": 16, "font": "Liberation Serif", "baseline": "middle", "align": "center"}, "encoding": {"x": {"datum": 1.154}, "y": {"datum": 0.943}, "text": {"field": "t"}}}
   ]}
 ],
 "resolve": {"scale": {"y": "independent"}}
}
]
}
